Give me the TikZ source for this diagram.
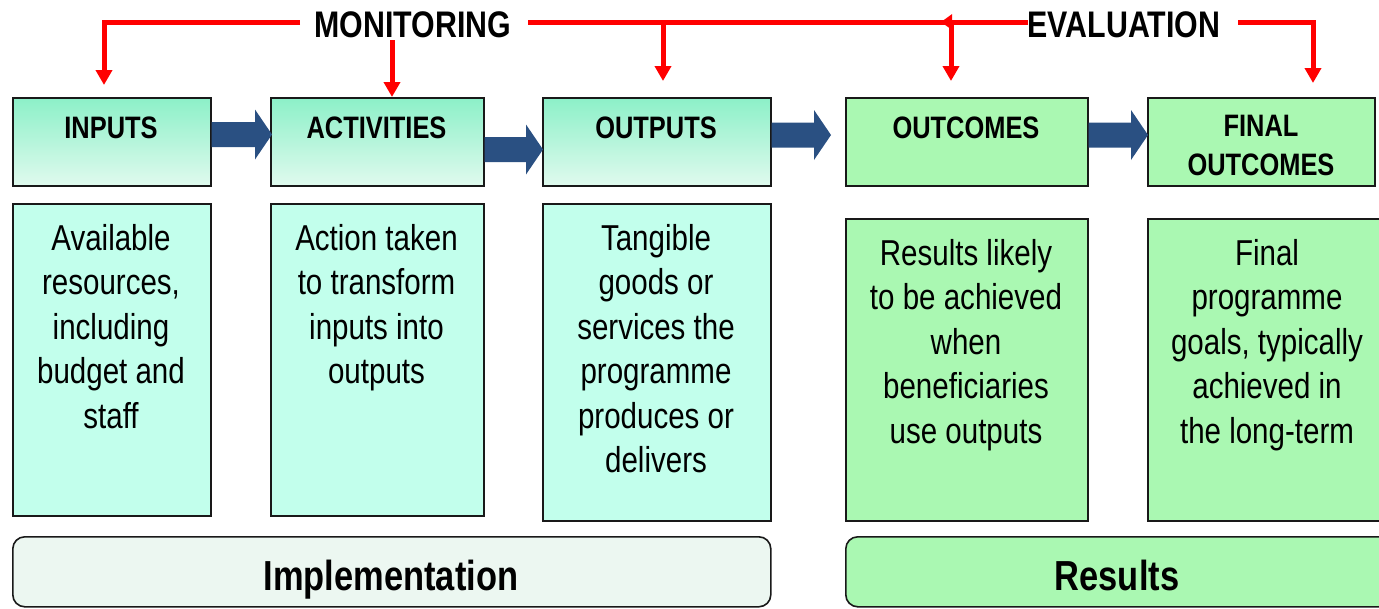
\documentclass[tikz,border=0pt]{standalone}
\usepackage{fontspec}
\setmainfont{Liberation Sans}[FakeStretch=0.82]
\usetikzlibrary{arrows.meta,calc}
\definecolor{hdrtop}{RGB}{140,240,200}
\definecolor{hdrbot}{RGB}{224,250,238}
\definecolor{descaqua}{RGB}{194,255,236}
\definecolor{resgreen}{RGB}{170,248,178}
\definecolor{implfill}{RGB}{236,247,241}
\definecolor{arrowblue}{RGB}{42,80,130}
\definecolor{edgecol}{RGB}{25,25,25}
\newcommand\blockarr[4]{% #1 start anchor, #2 target anchor, #3 tip offset, #4 y centre
  \fill[arrowblue] let \p1=(#1), \p2=(#2) in
    ({\x1},{-#4pt+12.5pt}) -- ({\x2+#3pt-17pt},{-#4pt+12.5pt}) --
    ({\x2+#3pt-17pt},{-#4pt+25pt}) -- ({\x2+#3pt},{-#4pt}) --
    ({\x2+#3pt-17pt},{-#4pt-25pt}) -- ({\x2+#3pt-17pt},{-#4pt-12.5pt}) --
    ({\x1},{-#4pt-12.5pt}) -- cycle;}
\begin{document}
\begin{tikzpicture}[x=1pt,y=-1pt,
  boxbase/.style={draw=edgecol,line width=1.6pt,inner sep=0pt,rectangle,anchor=north west},
  hdrmon/.style={boxbase,top color=hdrtop,bottom color=hdrbot},
  hdrres/.style={boxbase,fill=resgreen},
  descmon/.style={boxbase,fill=descaqua},
  descres/.style={boxbase,fill=resgreen},
  phase/.style={boxbase,rounded corners=12pt},
  htext/.style={inner sep=0pt,font=\fontsize{31}{38.5}\selectfont\bfseries,align=center},
  dtext/.style={inner sep=0pt,font=\fontsize{36}{44.5}\selectfont,align=center,anchor=north},
  ptext/.style={inner sep=0pt,font=\fontsize{42}{50}\selectfont\bfseries,anchor=base},
  ttext/.style={inner sep=0pt,font=\fontsize{37}{44}\selectfont\bfseries,anchor=base},
  redline/.style={draw=red,line width=5pt},
  redarr/.style={redline,-{Triangle[length=15pt,width=16pt]}},
  redback/.style={redline,-{Triangle[length=11pt,width=15pt]}}]
\useasboundingbox (0,0) rectangle (1379,608);

% header boxes
\node[hdrmon,minimum width=198pt,minimum height=88pt] (inputs) at (12,97) {};
\node[hdrmon,minimum width=213pt,minimum height=88pt] (activities) at (270,97) {};
\node[hdrmon,minimum width=228pt,minimum height=88pt] (outputs) at (542,97) {};
\node[hdrres,minimum width=242pt,minimum height=88pt] (outcomes) at (845,97) {};
\node[hdrres,minimum width=227pt,minimum height=88pt] (final) at (1147,97) {};

\node[htext,anchor=base] (tinputs) at (111,138) {INPUTS};
\node[htext,anchor=base] (tactivities) at (376.5,138) {ACTIVITIES};
\node[htext,anchor=base] (toutputs) at (656,138) {OUTPUTS};
\node[htext,anchor=base] (toutcomes) at (966,138) {OUTCOMES};
\node[htext,anchor=north] (tfinal) at (1261,115) {FINAL\\OUTCOMES};

% description boxes
\node[descmon,minimum width=198pt,minimum height=312pt] (dinputs) at (12,203) {};
\node[descmon,minimum width=213pt,minimum height=312pt] (dactivities) at (270,203) {};
\node[descmon,minimum width=228pt,minimum height=317pt] (doutputs) at (542,203) {};
\node[descres,minimum width=242pt,minimum height=302pt] (doutcomes) at (845,218) {};
\node[descres,minimum width=242pt,minimum height=302pt] (dfinal) at (1147,218) {};

\node[dtext] (xinputs) at (111,224) {Available\\resources,\\including\\budget and\\staff};
\node[dtext] (xactivities) at (376.5,224) {Action taken\\to transform\\inputs into\\outputs};
\node[dtext] (xoutputs) at (656,224) {Tangible\\goods or\\services the\\programme\\produces or\\delivers};
\node[dtext] (xoutcomes) at (966,239) {Results likely\\to be achieved\\when\\beneficiaries\\use outputs};
\node[dtext] (xfinal) at (1267,239) {Final\\programme\\goals, typically\\achieved in\\the long-term};

% phase boxes
\node[phase,fill=implfill,minimum width=758pt,minimum height=70pt] (impl) at (12,536) {};
\node[phase,fill=resgreen,minimum width=545pt,minimum height=70pt] (res) at (845,536) {};
\node[ptext] (timpl) at (391,590) {Implementation};
\node[ptext] (tres) at (1117,590) {Results};

% block arrows
\blockarr{inputs.east}{activities.west}{2}{134.5}
\blockarr{activities.east}{outputs.west}{1}{149.5}
\blockarr{outputs.east}{outcomes.west}{-14}{135}
\blockarr{outcomes.east}{final.west}{1}{135}

% titles
\node[ttext] (mon) at (413,37) {MONITORING};
\node[ttext] (eva) at (1124,37) {EVALUATION};

% red connectors
\coordinate (mleft) at (300,22);
\coordinate (tipin) at (104,85);
\coordinate (mact) at (392,40);
\coordinate (mright) at (528,22);
\coordinate (jout) at (663,22);
\coordinate (tipout) at (663,81);
\coordinate (jocm) at (951,22);
\coordinate (tipocm) at (951,81);
\coordinate (eleft) at (1028,22);
\coordinate (eback) at (941,22);
\coordinate (eright) at (1238,22);
\coordinate (tipfin) at (1313,83);

\draw[redarr] (mleft) -| (tipin);
\draw[redarr] (mact) -- (mact |- activities.north);
\draw[redline] (mright) -- (jocm);
\draw[redarr] (jout) -- (tipout);
\draw[redarr] (jocm) -- (tipocm);
\draw[redback] (eleft) -- (eback);
\draw[redarr] (eright) -| (tipfin);
\end{tikzpicture}
\end{document}
